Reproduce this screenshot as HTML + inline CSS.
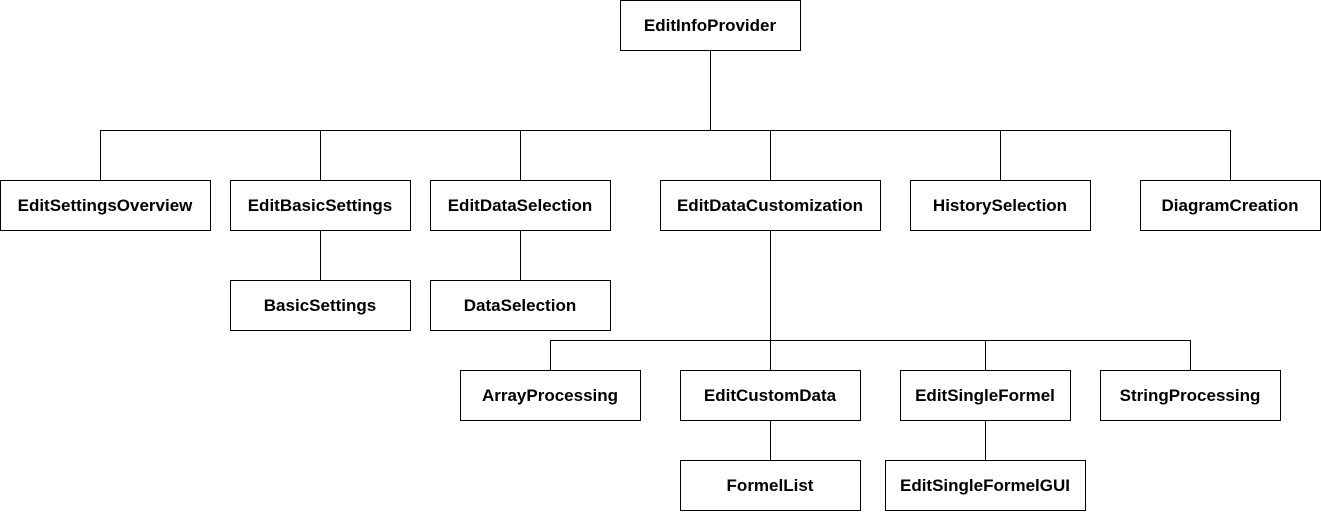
<!DOCTYPE html>
<html><head><style>
html,body{margin:0;padding:0;background:#fff;}
svg{display:block;}
text{font-family:"Liberation Sans",Arial,sans-serif;font-weight:bold;font-size:17px;fill:#000;}
</style></head><body>
<svg width="1321" height="512" viewBox="0 0 1321 512" xmlns="http://www.w3.org/2000/svg">
<g stroke="#000" stroke-width="1" fill="none" shape-rendering="crispEdges">
<path d="M710.5 50V130.5M100.5 130.5H1230.5M100.5 130V180M320.5 130V180M520.5 130V180M770.5 130V180M1000.5 130V180M1230.5 130V180"/>
<path d="M320.5 230V280M520.5 230V280"/>
<path d="M770.5 230V370M550.5 340.5H1190.5M550.5 340V370M985.5 340V370M1190.5 340V370"/>
<path d="M770.5 420V460M985.5 420V460"/>
</g>
<g stroke="#000" stroke-width="1" fill="#fff" shape-rendering="crispEdges">
<rect x="620.5" y="0.5" width="180" height="50"/>
<rect x="0.5" y="180.5" width="210" height="50"/>
<rect x="230.5" y="180.5" width="180" height="50"/>
<rect x="430.5" y="180.5" width="180" height="50"/>
<rect x="660.5" y="180.5" width="220" height="50"/>
<rect x="910.5" y="180.5" width="180" height="50"/>
<rect x="1140.5" y="180.5" width="180" height="50"/>
<rect x="230.5" y="280.5" width="180" height="50"/>
<rect x="430.5" y="280.5" width="180" height="50"/>
<rect x="460.5" y="370.5" width="180" height="50"/>
<rect x="680.5" y="370.5" width="180" height="50"/>
<rect x="900.5" y="370.5" width="170" height="50"/>
<rect x="1100.5" y="370.5" width="180" height="50"/>
<rect x="680.5" y="460.5" width="180" height="50"/>
<rect x="885.5" y="460.5" width="200" height="50"/>
</g>
<g text-anchor="middle">
<text x="710" y="31">EditInfoProvider</text>
<text x="105" y="211">EditSettingsOverview</text>
<text x="320" y="211">EditBasicSettings</text>
<text x="520" y="211">EditDataSelection</text>
<text x="770" y="211">EditDataCustomization</text>
<text x="1000" y="211">HistorySelection</text>
<text x="1230" y="211">DiagramCreation</text>
<text x="320" y="311">BasicSettings</text>
<text x="520" y="311">DataSelection</text>
<text x="550" y="401">ArrayProcessing</text>
<text x="770" y="401">EditCustomData</text>
<text x="985" y="401">EditSingleFormel</text>
<text x="1190" y="401">StringProcessing</text>
<text x="770" y="491">FormelList</text>
<text x="985" y="491">EditSingleFormelGUI</text>
</g>
</svg>
</body></html>
